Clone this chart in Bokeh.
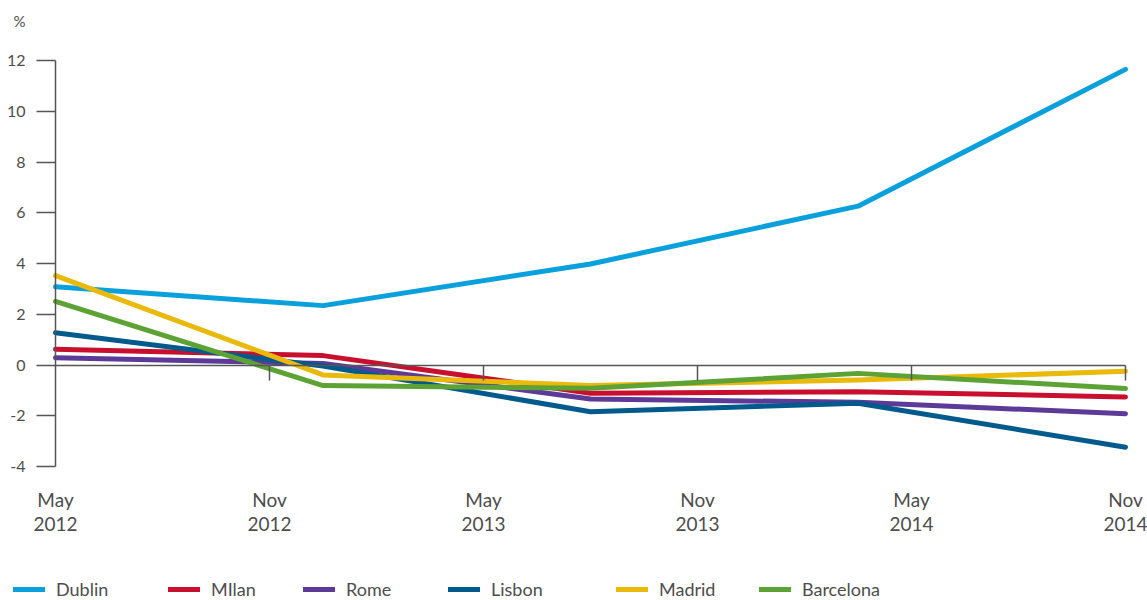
from bokeh.plotting import figure
from bokeh.models import Range1d, LinearAxis, FixedTicker, Legend, LegendItem, Label
from bokeh.embed import file_html
from bokeh.resources import INLINE

# ---- data (x = months since May 2012) ----
tick_months = [0, 6, 12, 18, 24, 30]
tick_labels = ["May\n2012", "Nov\n2012", "May\n2013", "Nov\n2013", "May\n2014", "Nov\n2014"]
obs_months = [0, 7.5, 15, 22.5, 30]
cities = ["Dublin", "MIlan", "Rome", "Lisbon", "Madrid", "Barcelona"]
dublin = [3.08, 2.34, 3.98, 6.26, 11.65]
milan = [0.62, 0.37, -1.11, -1.05, -1.26]
rome = [0.29, 0.06, -1.34, -1.47, -1.92]
lisbon = [1.27, -0.04, -1.84, -1.51, -3.24]
madrid = [3.52, -0.39, -0.81, -0.59, -0.25]
barcelona = [2.51, -0.81, -0.92, -0.33, -0.93]
y_ticks = [-4, -2, 0, 2, 4, 6, 8, 10, 12]
y_tick_labels = ["-4", "-2", "0", "2", "4", "6", "8", "10", "12"]
unit_label = "%"

series = [dublin, milan, rome, lisbon, madrid, barcelona]
colors = ["#0aa0dc", "#c8102e", "#5c3a98", "#005a8c", "#e9b90b", "#5ca234"]

FONT = "Lato"
TXT = "#4d4d4d"
AX = "#555555"

W, H = 1147, 600
# pixel layout of the plotting area (frame covers the whole canvas)
PX_LEFT, PX_RIGHT = 55, 1125      # x = 0 and x = 30 months
PX_TOP, PX_BOTTOM = 60, 466       # y = 12 and y = -4
ppm = (PX_RIGHT - PX_LEFT) / 30.0
ppu = (PX_BOTTOM - PX_TOP) / 16.0
x0 = 0 - PX_LEFT / ppm
x1 = 30 + (W - PX_RIGHT) / ppm
y1 = 12 + PX_TOP / ppu
y0 = -4 - (H - PX_BOTTOM) / ppu

p = figure(width=W, height=H, output_backend="svg", toolbar_location=None,
           x_range=Range1d(x0, x1), y_range=Range1d(y0, y1),
           x_axis_location=None, y_axis_location=None,
           min_border_left=0, min_border_right=0, min_border_top=0, min_border_bottom=0)
p.grid.visible = False
p.outline_line_color = None
p.background_fill_color = "white"
p.border_fill_color = "white"

# y axis
yax = LinearAxis(ticker=FixedTicker(ticks=y_ticks), bounds=(-4, 12), fixed_location=0)
yax.axis_line_color = AX
yax.axis_line_width = 1.5
yax.major_tick_line_color = AX
yax.major_tick_line_width = 1.5
yax.major_tick_out = 19
yax.major_tick_in = 0
yax.minor_tick_line_color = None
yax.major_label_standoff = 11
yax.major_label_overrides = {t: s for t, s in zip(y_ticks, y_tick_labels)}
yax.major_label_text_font = FONT
yax.major_label_text_font_size = "16px"
yax.major_label_text_color = TXT
p.add_layout(yax, "left")

# x axis line at zero with downward ticks
xax = LinearAxis(ticker=FixedTicker(ticks=tick_months[1:]), bounds=(0, 30), fixed_location=0)
xax.axis_line_color = AX
xax.axis_line_width = 1.5
xax.major_tick_line_color = AX
xax.major_tick_line_width = 1.5
xax.major_tick_out = 15
xax.major_tick_in = 0
xax.minor_tick_line_color = None
xax.major_label_text_font_size = "0px"
xax.major_label_overrides = {m: "" for m in tick_months}
p.add_layout(xax, "below")

# x tick labels at the bottom
lab = LinearAxis(ticker=FixedTicker(ticks=tick_months), fixed_location=-4 - 14 / ppu)
lab.axis_line_color = None
lab.major_tick_line_color = None
lab.minor_tick_line_color = None
lab.major_tick_out = 0
lab.major_tick_in = 0
lab.major_label_standoff = 7
lab.major_label_overrides = {m: t for m, t in zip(tick_months, tick_labels)}
lab.major_label_text_font = FONT
lab.major_label_text_font_size = "19px"
lab.major_label_text_color = TXT
lab.major_label_text_line_height = 1.05
p.add_layout(lab, "below")

# unit label
p.add_layout(Label(x=x0 + 13 / ppm, y=y1 - 20 / ppu, text=unit_label,
                   text_font=FONT, text_font_size="15px", text_color=TXT,
                   text_baseline="middle", text_align="left"))

renderers = []
for ys, c in zip(series, colors):
    r = p.line(obs_months, ys, line_color=c, line_width=5, line_cap="round", line_join="round")
    renderers.append(r)

legend_x = [13, 168, 303, 448, 616, 759]
for name, r, lx in zip(cities, renderers, legend_x):
    lg = Legend(items=[LegendItem(label=name, renderers=[r])], location=(lx, 0))
    lg.glyph_width = 32
    lg.glyph_height = 12
    lg.label_standoff = 11
    lg.padding = 0
    lg.margin = 0
    lg.border_line_color = None
    lg.background_fill_alpha = 0
    lg.label_text_font = FONT
    lg.label_text_font_size = "18px"
    lg.label_text_color = TXT
    lg.label_height = 20
    p.add_layout(lg)

html = file_html(p, INLINE)
open("out.html", "w").write(html)
